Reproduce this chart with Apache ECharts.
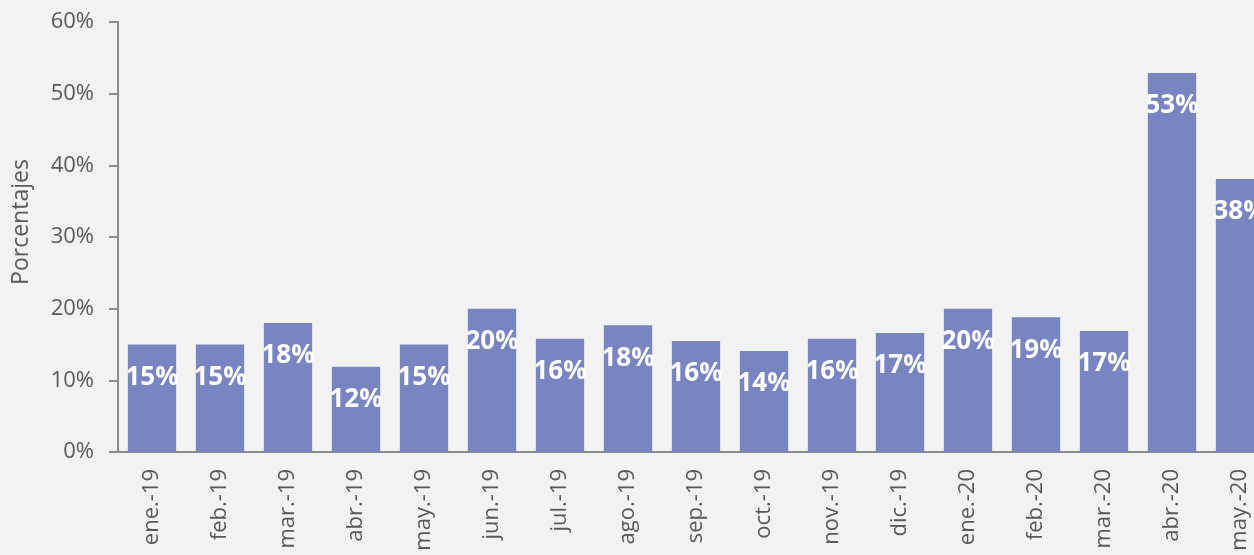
<!DOCTYPE html>
<html>
<head>
<meta charset="utf-8">
<script src="https://cdn.jsdelivr.net/npm/echarts@6/dist/echarts.min.js"></script>
<style>
  html, body { margin: 0; padding: 0; background: #f2f2f2; }
  #chart { width: 1254px; height: 555px; }
</style>
</head>
<body>
<div id="chart"></div>
<script>
// meses
const months = ['ene.-19', 'feb.-19', 'mar.-19', 'abr.-19', 'may.-19', 'jun.-19', 'jul.-19', 'ago.-19',
    'sep.-19', 'oct.-19', 'nov.-19', 'dic.-19', 'ene.-20', 'feb.-20', 'mar.-20', 'abr.-20', 'may.-20'];
// porcentajes
const values = [15, 15, 18, 11.9, 15, 20, 15.8, 17.7, 15.5, 14.1, 15.8, 16.6, 20, 18.8, 16.9, 52.9, 38.1];

const chart = echarts.init(document.getElementById('chart'));
const font = '"Open Sans", sans-serif';

chart.setOption({
    backgroundColor: '#f2f2f2',
    animation: false,
    grid: {
        left: 118,
        top: 22,
        height: 430,
        width: 1156,
        outerBoundsMode: 'none',
        containLabel: false
    },
    xAxis: {
        type: 'category',
        data: months,
        axisLine: { lineStyle: { color: '#8c8c8c', width: 2 } },
        axisTick: { show: false },
        axisLabel: {
            rotate: 90,
            margin: 17,
            color: '#595959',
            fontFamily: font,
            fontSize: 22
        }
    },
    yAxis: {
        type: 'value',
        min: 0,
        max: 60,
        interval: 10,
        name: 'Porcentajes',
        nameLocation: 'middle',
        nameGap: 85,
        nameTextStyle: { color: '#595959', fontFamily: font, fontSize: 23, padding: [0, 0, 0, 30] },
        splitLine: { show: false },
        axisLine: { show: true, lineStyle: { color: '#8c8c8c', width: 2 } },
        axisTick: { show: true, length: 9, lineStyle: { color: '#8c8c8c', width: 2 } },
        axisLabel: {
            margin: 24,
            color: '#595959',
            fontFamily: font,
            fontSize: 22,
            formatter: '{value}%'
        }
    },
    series: [{
        type: 'bar',
        data: values,
        barCategoryGap: '29%',
        itemStyle: { color: '#7985c1' },
        label: {
            show: true,
            position: 'insideTop',
            distance: 20,
            color: '#ffffff',
            fontFamily: font,
            fontWeight: 'bold',
            fontSize: 26,
            formatter: p => Math.round(p.value) + '%'
        }
    }]
});
</script>
</body>
</html>
